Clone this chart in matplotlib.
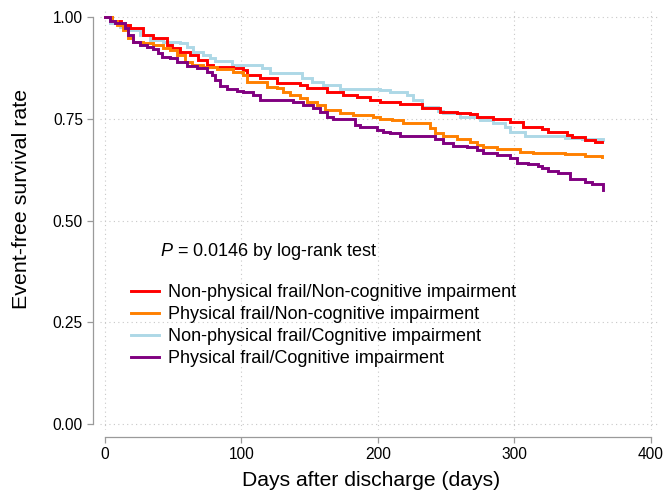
import matplotlib
matplotlib.use("Agg")
import matplotlib.pyplot as plt

plt.rcParams['font.family'] = ['Liberation Sans', 'DejaVu Sans']
plt.rcParams['mathtext.fontset'] = 'custom'
plt.rcParams['mathtext.it'] = 'Liberation Sans:italic'
plt.rcParams['mathtext.rm'] = 'Liberation Sans'

labels = ["Non-physical frail/Non-cognitive impairment",
          "Physical frail/Non-cognitive impairment",
          "Non-physical frail/Cognitive impairment",
          "Physical frail/Cognitive impairment"]
colors = ["#FF0000", "#FF8000", "#ADD8E6", "#800080"]

# Non-physical frail / Non-cognitive impairment
t_red = [0, 5, 12, 18.3, 27.8, 35.2, 45.4, 49.1, 54.9, 62.3, 68.1, 74.7, 79.1, 93.8,
         101.1, 104, 113.6, 126, 142.9, 148, 162.6, 174.4, 184.6, 194.1, 201.5, 216.1,
         232.2, 245.4, 257.9, 267.4, 272.5, 284.2, 296.7, 306.2, 320.1, 324.5, 338.5,
         342.1, 351.6, 359, 364]
s_red = [1.0, 0.990, 0.980, 0.974, 0.956, 0.949, 0.932, 0.925, 0.915, 0.907, 0.895, 0.883,
         0.878, 0.875, 0.870, 0.858, 0.851, 0.838, 0.834, 0.826, 0.816, 0.809, 0.804, 0.797,
         0.792, 0.787, 0.777, 0.767, 0.765, 0.762, 0.755, 0.750, 0.743, 0.730, 0.725, 0.718,
         0.711, 0.706, 0.698, 0.693, 0.693]

# Physical frail / Non-cognitive impairment
t_orange = [0, 5, 8.8, 13.2, 16.8, 20.5, 27.8, 35.2, 42.5, 47.6, 52.7, 58.6, 63.7, 71.8,
            82, 93.8, 101.1, 104, 118.7, 126, 130.4, 135.5, 142.9, 148, 155.3, 161.2,
            172.2, 181.7, 196.3, 201.5, 210, 218.3, 238.1, 241.8, 247.6, 257.9, 267.4,
            272.5, 276.9, 287.2, 304, 313.6, 337, 351.6, 364]
s_orange = [1.0, 0.990, 0.981, 0.969, 0.949, 0.939, 0.937, 0.932, 0.925, 0.920, 0.907,
            0.890, 0.883, 0.878, 0.873, 0.865, 0.858, 0.841, 0.829, 0.826, 0.816, 0.809,
            0.802, 0.792, 0.784, 0.772, 0.765, 0.760, 0.755, 0.750, 0.747, 0.740, 0.728,
            0.716, 0.708, 0.701, 0.693, 0.686, 0.681, 0.676, 0.669, 0.666, 0.664, 0.659,
            0.656]

# Non-physical frail / Cognitive impairment
t_blue = [0, 3.7, 11, 18.3, 25.6, 33, 42.5, 54.9, 60.1, 64.5, 71.8, 76.9, 80.6, 93,
          115, 120.9, 144.3, 151.6, 159.7, 172.2, 201.5, 208.8, 221.2, 225.6, 232.2,
          244, 247.6, 260.1, 274.7, 284.2, 293, 296.7, 307.7, 337, 349.5, 365]
s_blue = [1.0, 0.986, 0.976, 0.969, 0.956, 0.944, 0.939, 0.937, 0.927, 0.915, 0.907,
          0.900, 0.893, 0.883, 0.875, 0.863, 0.851, 0.841, 0.834, 0.824, 0.821, 0.816,
          0.809, 0.797, 0.779, 0.770, 0.765, 0.755, 0.747, 0.740, 0.730, 0.718, 0.708,
          0.703, 0.701, 0.698]

# Physical frail / Cognitive impairment
t_purple = [0, 4, 7.3, 14.7, 16.8, 20.5, 25.6, 30.8, 35.2, 38.8, 41.8, 47.6, 52.7, 60.1,
            67.4, 74.7, 78.4, 80.6, 84.2, 89.4, 96.7, 101.1, 108.4, 113.6, 137.7, 145,
            152.4, 157.5, 162.6, 167, 183.2, 186.8, 199.3, 203.7, 208.8, 216.1, 241.8,
            247.6, 254.9, 265.2, 272.5, 276.9, 287.2, 296.7, 301.8, 309.9, 317.2, 320.1,
            324.5, 331.9, 340.7, 351.6, 356.8, 364.8]
s_purple = [1.0, 0.990, 0.986, 0.974, 0.956, 0.939, 0.932, 0.927, 0.922, 0.912, 0.902,
            0.900, 0.890, 0.880, 0.875, 0.865, 0.858, 0.846, 0.831, 0.824, 0.819, 0.816,
            0.809, 0.797, 0.792, 0.784, 0.777, 0.767, 0.755, 0.750, 0.735, 0.730, 0.723,
            0.718, 0.716, 0.708, 0.701, 0.691, 0.684, 0.681, 0.674, 0.666, 0.661, 0.654,
            0.642, 0.639, 0.634, 0.629, 0.622, 0.617, 0.602, 0.595, 0.590, 0.575]

x_ticks = [0, 100, 200, 300, 400]
y_ticks = [0.0, 0.25, 0.5, 0.75, 1.0]
y_ticklabels = ["0.00", "0.25", "0.50", "0.75", "1.00"]
p_text = r"$\mathit{P}$ = 0.0146 by log-rank test"

W, H = 664, 496
fig = plt.figure(figsize=(W / 100, H / 100), dpi=100)
# axes spans px 100..660 horizontally, 10..430 vertically
ax = fig.add_axes([100 / W, 1 - 430 / H, 560 / W, 420 / H])
ax.set_xlim(-3.66, 406.6)
ax.set_ylim(-0.0148, 1.018)

series = [(t_red, s_red), (t_orange, s_orange), (t_blue, s_blue), (t_purple, s_purple)]
draw_order = [2, 0, 1, 3]
handles = {}
for i in draw_order:
    t, s = series[i]
    ln, = ax.plot(t, s, drawstyle="steps-post", color=colors[i], lw=2.1,
                  solid_joinstyle="miter", zorder=3)
    handles[i] = ln

ax.set_xticks(x_ticks)
ax.set_yticks(y_ticks)
ax.set_yticklabels(y_ticklabels)
ax.grid(True, color="#c8c8c8", linestyle=(0, (1, 3)), linewidth=0.8)
ax.set_axisbelow(True)

for sp in ["top", "right"]:
    ax.spines[sp].set_visible(False)
ax.spines["left"].set_position(("outward", 5.3))
ax.spines["bottom"].set_position(("outward", 5.0))
ax.spines["left"].set_bounds(0, 1)
ax.spines["bottom"].set_bounds(0, 400)
for sp in ["left", "bottom"]:
    ax.spines[sp].set_color("#9a9a9a")
    ax.spines[sp].set_linewidth(0.9)
ax.tick_params(axis="both", direction="out", length=4, width=0.9, color="#9a9a9a",
               labelsize=11.2, labelcolor="black", pad=3)

ax.set_xlabel("Days after discharge (days)", fontsize=15.2, va="center")
ax.set_ylabel("Event-free survival rate", fontsize=15.4, va="center")
ax.xaxis.set_label_coords((371 - 100) / 560, (430 - 481) / 420)
ax.yaxis.set_label_coords((21 - 100) / 560, (430 - 199) / 420)

fig.text(160 / W, 1 - 252 / H, p_text, fontsize=13, ha="left", va="center")

leg = ax.legend([handles[i] for i in range(4)], labels, loc="center left",
                bbox_to_anchor=(131 / W, 1 - 325.5 / H), bbox_transform=fig.transFigure,
                frameon=False, fontsize=13, handlelength=1.55, handletextpad=0.5,
                borderpad=0, borderaxespad=0, labelspacing=0.28)

fig.savefig("out.png", dpi=100, facecolor="white")
